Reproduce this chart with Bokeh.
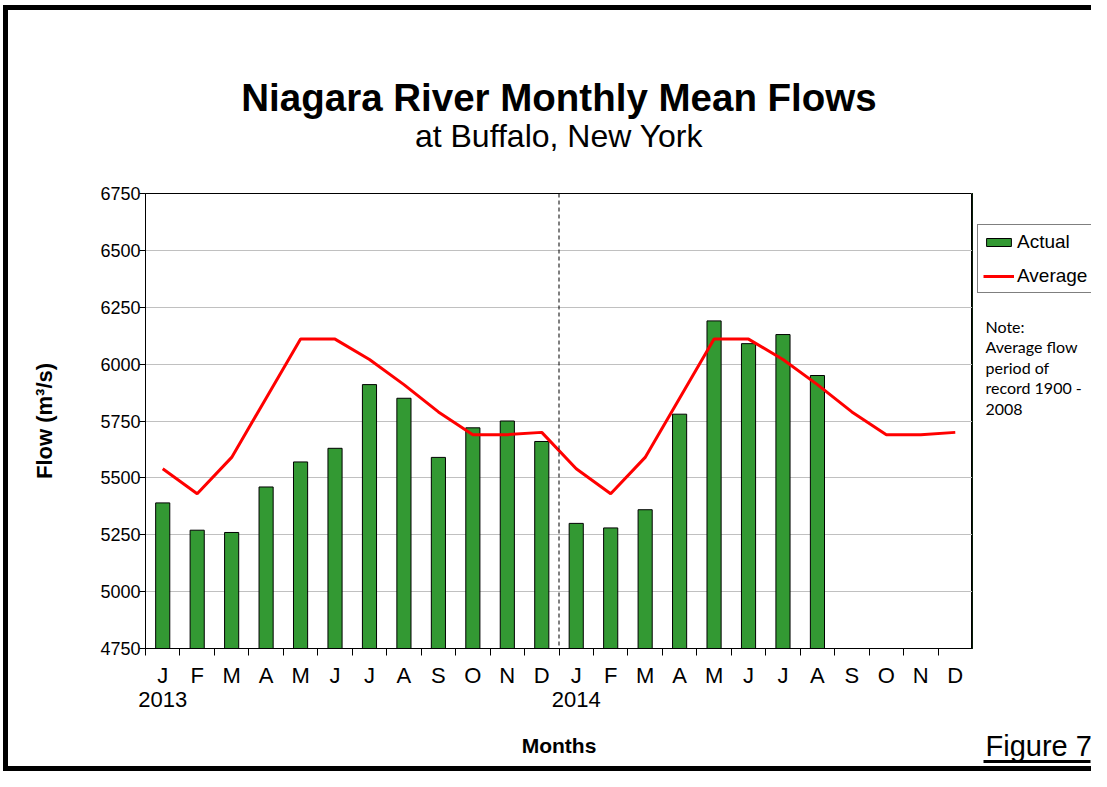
from bokeh.plotting import figure
from bokeh.models import (FixedTicker, LinearAxis, Range1d, Span, Label,
                          Legend, LegendItem, ColumnDataSource, Title, Div)
from bokeh.layouts import row, column
from bokeh.embed import file_html
from bokeh.resources import INLINE

# ---------------- data ----------------
months = ["J", "F", "M", "A", "M", "J", "J", "A", "S", "O", "N", "D",
          "J", "F", "M", "A", "M", "J", "J", "A", "S", "O", "N", "D"]
years = ["2013", "2014"]
actual = [5390, 5270, 5260, 5460, 5570, 5630, 5910, 5850, 5590, 5720, 5750, 5660,
          5300, 5280, 5360, 5780, 6190, 6090, 6130, 5950]
average = [5540, 5430, 5590, 5850, 6110, 6110, 6020, 5910, 5790, 5690, 5690, 5700,
           5540, 5430, 5590, 5850, 6110, 6110, 6020, 5910, 5790, 5690, 5690, 5700]
y_ticks = [4750, 5000, 5250, 5500, 5750, 6000, 6250, 6500, 6750]
note_text = "Note:\nAverage flow\nperiod of\nrecord 1900 -\n2008"

FONT = "Liberation Sans"
GREEN = "#339933"
RED = "#ff0000"

TOTAL_W, TOTAL_H = 1091, 771
GAP_T, GAP_L, BAR = 5, 3, 5
ROW_H = TOTAL_H - GAP_T - 2 * BAR            # 756
MAIN_W = 964
SIDE_W = TOTAL_W - GAP_L - BAR - MAIN_W      # 119

n = len(months)
xs = list(range(1, n + 1))


def spacer_axis(size, at):
    """An axis with nothing visible, used only to reserve room in a side panel."""
    return LinearAxis(ticker=FixedTicker(ticks=[at], minor_ticks=[]),
                      major_label_overrides={at: ""},
                      axis_line_color=None, major_tick_line_color=None,
                      minor_tick_line_color=None,
                      major_tick_out=size, major_tick_in=0, minor_tick_out=0, minor_tick_in=0,
                      major_label_standoff=0, major_label_text_font_size="1px")


# ---------------- main chart ----------------
p = figure(width=MAIN_W, height=ROW_H, output_backend="svg", toolbar_location=None,
           x_range=Range1d(0.5, n + 0.5), y_range=Range1d(y_ticks[0], y_ticks[-1]),
           min_border_left=137, min_border_right=0, min_border_top=183, min_border_bottom=118)
p.background_fill_color = "white"
p.border_fill_color = "white"
p.outline_line_color = "black"
p.outline_line_width = 1
xax = p.below[0]
yax = p.left[0]

src_a = ColumnDataSource(dict(x=xs[:len(actual)], top=actual))
r_bar = p.vbar(x="x", top="top", bottom=y_ticks[0], width=0.41, fill_color=GREEN,
               line_color="black", line_width=1, source=src_a)
src_b = ColumnDataSource(dict(x=xs, y=average))
r_line = p.line(x="x", y="y", line_color=RED, line_width=3, source=src_b)

p.add_layout(Span(location=12.5, dimension="height", line_color="black",
                  line_dash="4 3", line_width=1))

# titles: spacer (next to frame), subtitle, main title (outermost)
p.title.text = "Niagara River Monthly Mean Flows"
p.title.align = "center"
p.title.text_font = FONT
p.title.text_font_size = "38.5px"
p.title.text_font_style = "bold"
p.title.text_color = "black"
p.title.standoff = -6
p.title.offset = -3
p.add_layout(spacer_axis(40, 12.5), "above")
p.add_layout(Title(text="at Buffalo, New York", align="center", text_font=FONT,
                   text_font_size="32px", text_font_style="normal", text_color="black",
                   standoff=0, offset=-3), "above")

# y axis
yax.ticker = FixedTicker(ticks=y_ticks)
yax.major_label_text_font = FONT
yax.major_label_text_font_size = "18px"
yax.major_label_text_color = "black"
yax.major_tick_out = 6
yax.major_tick_in = 0
yax.minor_tick_line_color = None
yax.major_label_standoff = -1
yax.axis_line_color = "black"
yax.axis_label = "Flow (m³/s)"
yax.axis_label_text_font = FONT
yax.axis_label_text_font_size = "22px"
yax.axis_label_text_font_style = "bold"
yax.axis_label_text_color = "black"
yax.axis_label_standoff = 40
p.ygrid.grid_line_color = "#c0c0c0"
p.ygrid.ticker = FixedTicker(ticks=y_ticks)
p.xgrid.visible = False

# x axis (months)
xax.ticker = FixedTicker(ticks=xs, minor_ticks=[i + 0.5 for i in range(n + 1)])
xax.major_label_overrides = {x: m for x, m in zip(xs, months)}
xax.major_label_text_font = FONT
xax.major_label_text_font_size = "22px"
xax.major_label_text_color = "black"
xax.major_tick_out = 0
xax.major_tick_in = 0
xax.minor_tick_out = 7
xax.minor_tick_in = 0
xax.minor_tick_line_color = "black"
xax.major_label_standoff = 7
xax.axis_line_color = "black"

# x axis (years) + "Months"
year_pos = [1, 13]
yr = LinearAxis(ticker=FixedTicker(ticks=year_pos, minor_ticks=[]),
                major_label_overrides={x: y for x, y in zip(year_pos, years)},
                axis_line_color=None, major_tick_line_color=None, minor_tick_line_color=None,
                major_label_text_font=FONT, major_label_text_font_size="22px",
                major_label_text_color="black", major_label_standoff=-5,
                axis_label="Months", axis_label_text_font=FONT,
                axis_label_text_font_size="21px", axis_label_text_font_style="bold",
                axis_label_text_color="black", axis_label_standoff=24)
p.add_layout(yr, "below")

# ---------------- side panel (legend, note, figure number) ----------------
SX0 = 972   # page x of the side panel's left edge
s = figure(width=SIDE_W, height=ROW_H, output_backend="svg", toolbar_location=None,
           x_range=Range1d(SX0, SX0 + SIDE_W), y_range=Range1d(648, 193),
           x_axis_location=None, y_axis_location=None, min_border=0)
s.outline_line_color = None
s.background_fill_color = "white"
s.border_fill_color = "white"
s.grid.visible = False
s.title.visible = False

# legend glyph renderers (same data; outside this panel's ranges, so only the legend shows)
l_bar = s.vbar(x="x", top="top", width=1, fill_color=GREEN, line_color="black",
               line_width=1, source=src_a)
l_line = s.line(x="x", y="y", line_color=RED, line_width=3, source=src_b)
legend = Legend(items=[LegendItem(label="Actual", renderers=[l_bar]),
                       LegendItem(label="Average", renderers=[l_line])],
                location=(977 - SX0, 648 - 293), orientation="vertical",
                label_text_font=FONT, label_text_font_size="19px", label_text_color="black",
                glyph_width=31, glyph_height=10, label_height=23, label_standoff=3,
                spacing=11, padding=5, margin=0,
                border_line_color="black", border_line_width=1,
                background_fill_color="white", background_fill_alpha=1)
s.add_layout(legend)

s.add_layout(Label(x=985, y=316, text=note_text, text_font="Lato", text_font_size="16px",
                   text_align="left", text_baseline="top", text_color="black",
                   text_line_height=1.08))

# "Figure 7" with an underline (axis line) below it
s.add_layout(spacer_axis(79, SX0 + SIDE_W / 2), "below")
s.add_layout(Title(text="Figure 7", align="left", offset=985 - SX0, standoff=0,
                   text_font=FONT, text_font_size="29px", text_font_style="normal",
                   text_color="black"), "below")
s.add_layout(LinearAxis(ticker=FixedTicker(ticks=[], minor_ticks=[]), bounds=(983, 1090),
                        axis_line_color="black", axis_line_width=3,
                        major_tick_line_color=None, minor_tick_line_color=None,
                        major_tick_out=0, major_tick_in=0, minor_tick_out=0, minor_tick_in=0,
                        major_label_standoff=0, major_label_text_font_size="0px"), "below")

# ---------------- page frame ----------------
def block(w, h, color):
    return Div(text="", width=w, height=h, margin=0, styles={"background-color": color})

page = column(
    block(TOTAL_W, GAP_T, "white"),
    row(block(GAP_L, BAR, "white"), block(TOTAL_W - GAP_L, BAR, "black")),
    row(block(GAP_L, ROW_H, "white"), block(BAR, ROW_H, "black"), p, s),
    row(block(GAP_L, BAR, "white"), block(TOTAL_W - GAP_L, BAR, "black")),
)

open("out.html", "w").write(file_html(page, INLINE))
